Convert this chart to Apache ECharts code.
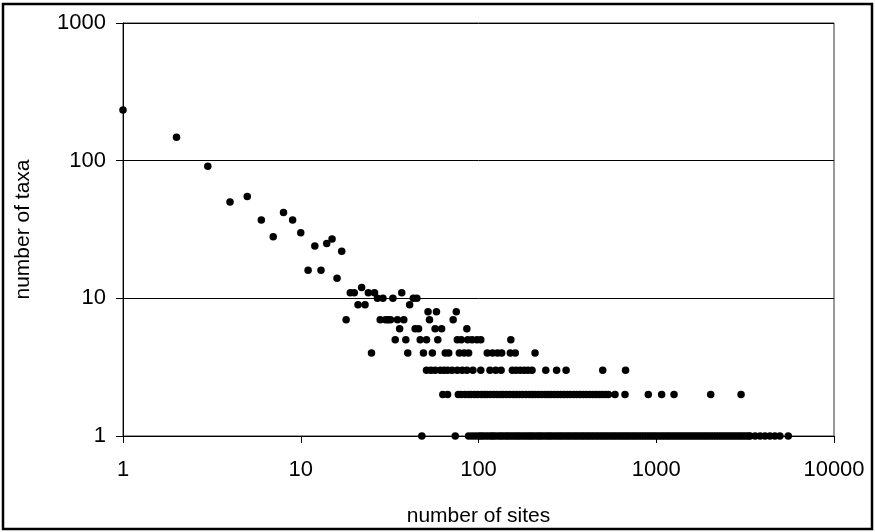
<!DOCTYPE html>
<html>
<head>
<meta charset="utf-8">
<script src="https://cdn.jsdelivr.net/npm/echarts@6/dist/echarts.min.js"></script>
<style>
  html, body { margin: 0; padding: 0; background: #fff; }
  #chart { width: 875px; height: 532px; }
</style>
</head>
<body>
<div id="chart"></div>
<script>
// Number of taxa found at a given number of sites (log-log frequency plot).

// Site counts shared by exactly one taxon
const sitesOneTaxon = [48, 74, 88, 92, 96, 100, 103, 106, 110, 114, 118, 121, 125, 130, 134, 138, 143, 147,
  152, 157, 162, 167, 172, 178, 184, 190, 196, 202, 209, 216, 222, 229, 237, 245, 252, 260, 269, 278,
  287, 296, 306, 316, 326, 337, 348, 359, 371, 383, 395, 408, 421, 435, 449, 464, 479, 495, 511, 527,
  544, 562, 580, 599, 619, 639, 660, 681, 703, 726, 750, 774, 800, 826, 853, 881, 910, 940, 970, 1002,
  1035, 1069, 1104, 1140, 1177, 1216, 1256, 1297, 1339, 1383, 1428, 1475, 1523, 1573, 1625, 1678, 1733,
  1790, 1848, 1909, 1971, 2036, 2102, 2171, 2242, 2316, 2391, 2470, 2551, 2634, 2720, 2810, 2902, 2996,
  3095, 3196, 3300, 3370, 3600, 3840, 4090, 4360, 4650, 4960, 5530];
// Site counts shared by two taxa
const sitesTwoTaxa = [63, 67, 77, 80, 84, 88, 91, 95, 99, 104, 108, 112, 117, 122, 127, 133, 138, 144, 150,
  157, 163, 170, 177, 185, 193, 201, 209, 218, 227, 237, 247, 257, 268, 279, 291, 303, 316, 329, 343, 357,
  372, 388, 404, 421, 439, 457, 476, 496, 517, 538, 586, 667, 902, 1072, 1259, 2025, 3000];
// Site counts shared by three taxa
const sitesThreeTaxa = [51, 54, 57, 61, 64, 67, 71, 76, 81, 86, 93, 103, 116, 125, 134, 155, 163, 172, 181,
  190, 200, 239, 275, 311, 500, 672];
const sitesFourTaxa = [25, 40, 49, 55, 65, 68, 78, 83, 88, 112, 120, 128, 135, 151, 161, 208];
const sitesFiveTaxa = [34, 39, 47, 51, 59, 76, 80, 87, 92, 98, 103, 152];
const sitesSixTaxa = [36, 44, 46, 57, 62, 86];
const sitesSevenTaxa = [18, 28, 30, 31, 32, 35, 38, 53, 72];
const sitesEightTaxa = [52, 58, 75];
const sitesNineTaxa = [21, 23, 41];
const sitesTenTaxa = [27, 29, 33, 43, 45];
const sitesElevenTaxa = [19, 20, 24, 26, 37];

// Rarer site counts with many taxa each
const upperSites = [1, 2, 3, 4, 5, 6, 7, 8, 9, 10, 11, 12, 13, 14, 15, 16, 17, 22];
const upperTaxa  = [233, 148, 91, 50, 55, 37, 28, 42, 37, 30, 16, 24, 16, 25, 27, 14, 22, 12];

// Axis tick labels
const xTicks = [1, 10, 100, 1000, 10000];
const yTicks = [1, 10, 100, 1000];

const points = [];
const addLevel = (sites, taxa) => sites.forEach(s => points.push([s, taxa]));
addLevel(sitesOneTaxon, 1);
addLevel(sitesTwoTaxa, 2);
addLevel(sitesThreeTaxa, 3);
addLevel(sitesFourTaxa, 4);
addLevel(sitesFiveTaxa, 5);
addLevel(sitesSixTaxa, 6);
addLevel(sitesSevenTaxa, 7);
addLevel(sitesEightTaxa, 8);
addLevel(sitesNineTaxa, 9);
addLevel(sitesTenTaxa, 10);
addLevel(sitesElevenTaxa, 11);
upperSites.forEach((s, i) => points.push([s, upperTaxa[i]]));

const font = '"Liberation Sans", Arial, sans-serif';
const plainNumber = v => String(Math.round(v));
const chart = echarts.init(document.getElementById('chart'), null, { renderer: 'canvas' });

chart.setOption({
  backgroundColor: '#fff',
  animation: false,
  grid: {
    left: 123, right: 41, top: 23, bottom: 96,
    show: true, borderColor: '#333', borderWidth: 1, backgroundColor: 'transparent'
  },
  xAxis: {
    type: 'log', logBase: 10, min: xTicks[0], max: xTicks[xTicks.length - 1],
    name: 'number of sites', nameLocation: 'middle', nameGap: 70,
    nameTextStyle: { fontFamily: font, fontSize: 21, color: '#000' },
    axisLine: { show: true, lineStyle: { color: '#000', width: 1 } },
    axisTick: { show: true, inside: false, length: 7, lineStyle: { color: '#000' } },
    axisLabel: { fontFamily: font, fontSize: 22, color: '#000', margin: 23, formatter: plainNumber },
    splitLine: { show: false }
  },
  yAxis: {
    type: 'log', logBase: 10, min: yTicks[0], max: yTicks[yTicks.length - 1],
    name: 'number of taxa', nameLocation: 'middle', nameGap: 89,
    nameTextStyle: { fontFamily: font, fontSize: 21, color: '#000' },
    axisLine: { show: true, lineStyle: { color: '#000', width: 1 } },
    axisTick: { show: true, inside: false, length: 7, lineStyle: { color: '#000' } },
    axisLabel: { fontFamily: font, fontSize: 22, color: '#000', margin: 17, formatter: plainNumber },
    splitLine: { show: true, lineStyle: { color: '#000', width: 1 } }
  },
  graphic: [{
    type: 'rect', silent: true,
    shape: { x: 3, y: 4, width: 869, height: 525 },
    style: { fill: 'none', stroke: '#000', lineWidth: 2.5 }
  }],
  series: [{
    type: 'scatter',
    data: points,
    symbol: 'circle',
    symbolSize: 7.5,
    clip: false,
    itemStyle: { color: '#000', opacity: 1 }
  }]
});
</script>
</body>
</html>
